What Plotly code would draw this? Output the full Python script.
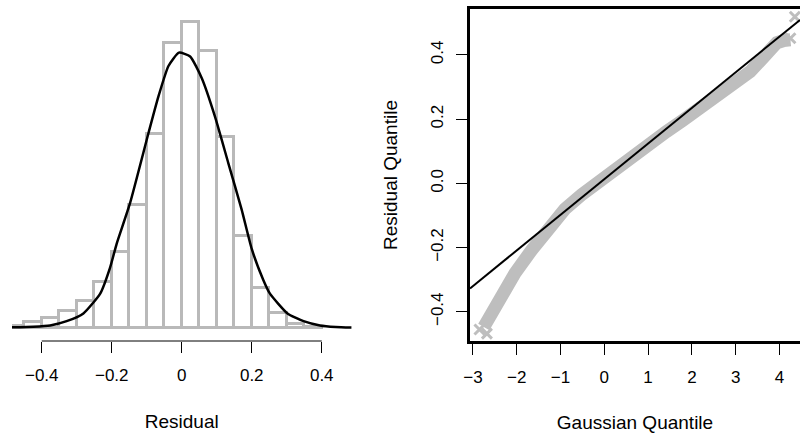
import plotly.graph_objects as go

# ---------------- data: left panel (histogram of residuals) ----------------
bin_left_edges = [-0.50, -0.45, -0.40, -0.35, -0.30, -0.25, -0.20, -0.15, -0.10,
                  -0.05, 0.00, 0.05, 0.10, 0.15, 0.20, 0.25, 0.30, 0.35]
bin_density = [0.027, 0.066, 0.116, 0.20, 0.32, 0.53, 0.89, 1.434, 2.256,
               3.314, 3.566, 3.229, 2.229, 1.07, 0.47, 0.17, 0.05, 0.012]
bin_width = 0.05

curve_x = [-0.486, -0.424, -0.376, -0.329, -0.281, -0.233, -0.205, -0.186, -0.148,
           -0.095, -0.067, -0.038, -0.008, 0.024, 0.057, 0.095, 0.133, 0.171,
           0.200, 0.233, 0.252, 0.302, 0.348, 0.395, 0.440, 0.486]
curve_density = [0.008, 0.015, 0.03, 0.08, 0.17, 0.40, 0.70, 0.98, 1.45,
                 2.27, 2.69, 3.05, 3.205, 3.16, 2.91, 2.46, 1.92, 1.38,
                 0.92, 0.56, 0.40, 0.17, 0.08, 0.03, 0.012, 0.005]

hist_xticks = [-0.4, -0.2, 0.0, 0.2, 0.4]
hist_xticklabels = ["\u22120.4", "\u22120.2", "0", "0.2", "0.4"]

# ---------------- data: right panel (QQ plot) ----------------
qq_x = [-2.75, -2.42, -2.04, -1.66, -1.28, -0.90, -0.52, -0.14, 0.30, 0.66,
        1.05, 1.42, 1.80, 2.18, 2.56, 2.95, 3.33, 3.63, 3.94, 4.10, 4.25]
qq_y = [-0.447, -0.364, -0.280, -0.208, -0.137, -0.080, -0.036, 0.004, 0.050, 0.090,
        0.126, 0.161, 0.197, 0.234, 0.270, 0.308, 0.348, 0.392, 0.438, 0.445, 0.447]
qq_end_x = [-2.85, -2.68, 4.25, 4.35]
qq_end_y = [-0.455, -0.468, 0.452, 0.519]

qq_line_intercept = 0.013
qq_line_slope = 0.111

qq_xticks = [-3, -2, -1, 0, 1, 2, 3, 4]
qq_xticklabels = ["\u22123", "\u22122", "\u22121", "0", "1", "2", "3", "4"]
qq_yticks = [-0.4, -0.2, 0.0, 0.2, 0.4]
qq_yticklabels = ["\u22120.4", "\u22120.2", "0.0", "0.2", "0.4"]

# ---------------- figure ----------------
W, H = 800, 439
HIST_GREY = "#B9B9B9"
QQ_GREY = "#BEBEBE"
FONT = "Liberation Sans, Arial, Helvetica, sans-serif"
TICKFONT = dict(family=FONT, size=17, color="black")
TITLEFONT = dict(family=FONT, size=19, color="black")

x1_range = [-0.485, 0.485]
y1_range = [-0.151, 3.713]
x2_range = [-3.066, 4.468]
y2_range = [-0.490, 0.542]

fig = go.Figure()

bin_centers = [e + bin_width / 2 for e in bin_left_edges]
fig.add_trace(go.Bar(
    x=bin_centers, y=bin_density, width=bin_width,
    marker=dict(color="white", line=dict(color=HIST_GREY, width=3)),
    xaxis="x", yaxis="y", showlegend=False, hoverinfo="skip"))

fig.add_trace(go.Scatter(
    x=curve_x, y=curve_density, mode="lines",
    line=dict(color="black", width=2.5, shape="spline", smoothing=0.5),
    xaxis="x", yaxis="y", showlegend=False))

fig.add_trace(go.Scatter(
    x=qq_x, y=qq_y, mode="lines",
    line=dict(color=QQ_GREY, width=13),
    xaxis="x2", yaxis="y2", showlegend=False))
fig.add_trace(go.Scatter(
    x=qq_end_x, y=qq_end_y, mode="markers",
    marker=dict(symbol="x-thin", size=10, line=dict(color=QQ_GREY, width=3)),
    xaxis="x2", yaxis="y2", showlegend=False))

line_x = [x2_range[0], x2_range[1]]
line_y = [qq_line_intercept + qq_line_slope * v for v in line_x]
fig.add_trace(go.Scatter(
    x=line_x, y=line_y, mode="lines",
    line=dict(color="black", width=2),
    xaxis="x2", yaxis="y2", showlegend=False))

# axis line of the histogram spans only the tick range (R style)
fig.add_shape(type="line", xref="x", yref="y domain",
              x0=hist_xticks[0], x1=hist_xticks[-1], y0=0, y1=0,
              line=dict(color="black", width=1))

fig.update_layout(
    template="none",
    width=W, height=H,
    margin=dict(l=0, r=0, t=0, b=0, autoexpand=False),
    paper_bgcolor="white", plot_bgcolor="white",
    bargap=0,
    xaxis=dict(domain=[12 / W, 351.5 / W], range=x1_range, automargin=False,
               showgrid=False, zeroline=False, showline=False,
               tickmode="array", tickvals=hist_xticks, ticktext=hist_xticklabels,
               ticks="outside", ticklen=11, tickwidth=1, tickcolor="black",
               tickfont=TICKFONT, ticklabelstandoff=8,
               title=dict(text="Residual", font=TITLEFONT, standoff=30)),
    yaxis=dict(domain=[1 - 341 / H, 1 - 9 / H], range=y1_range, visible=False,
               automargin=False, showgrid=False, zeroline=False),
    xaxis2=dict(domain=[470 / W, 1.0], range=x2_range, anchor="y2", automargin=False,
                showgrid=False, zeroline=False,
                showline=True, linewidth=3, linecolor="black", mirror=True,
                tickmode="array", tickvals=qq_xticks, ticktext=qq_xticklabels,
                ticks="outside", ticklen=11, tickwidth=1, tickcolor="black",
                tickfont=TICKFONT, ticklabelstandoff=8,
                title=dict(text="Gaussian Quantile", font=TITLEFONT, standoff=30)),
    yaxis2=dict(domain=[1 - 340.7 / H, 1 - 9.3 / H], range=y2_range, anchor="x2",
                automargin=False, showgrid=False, zeroline=False,
                showline=True, linewidth=3, linecolor="black", mirror=False,
                tickmode="array", tickvals=qq_yticks, ticktext=qq_yticklabels,
                ticks="outside", ticklen=11, tickwidth=1, tickcolor="black",
                tickfont=TICKFONT, tickangle=-90, ticklabelstandoff=6,
                title=dict(text="Residual Quantile", font=TITLEFONT, standoff=26)),
)

fig.write_html("out.html",
               config={"displayModeBar": False},
               post_script="document.body.style.margin='0';document.body.style.overflow='hidden';")
